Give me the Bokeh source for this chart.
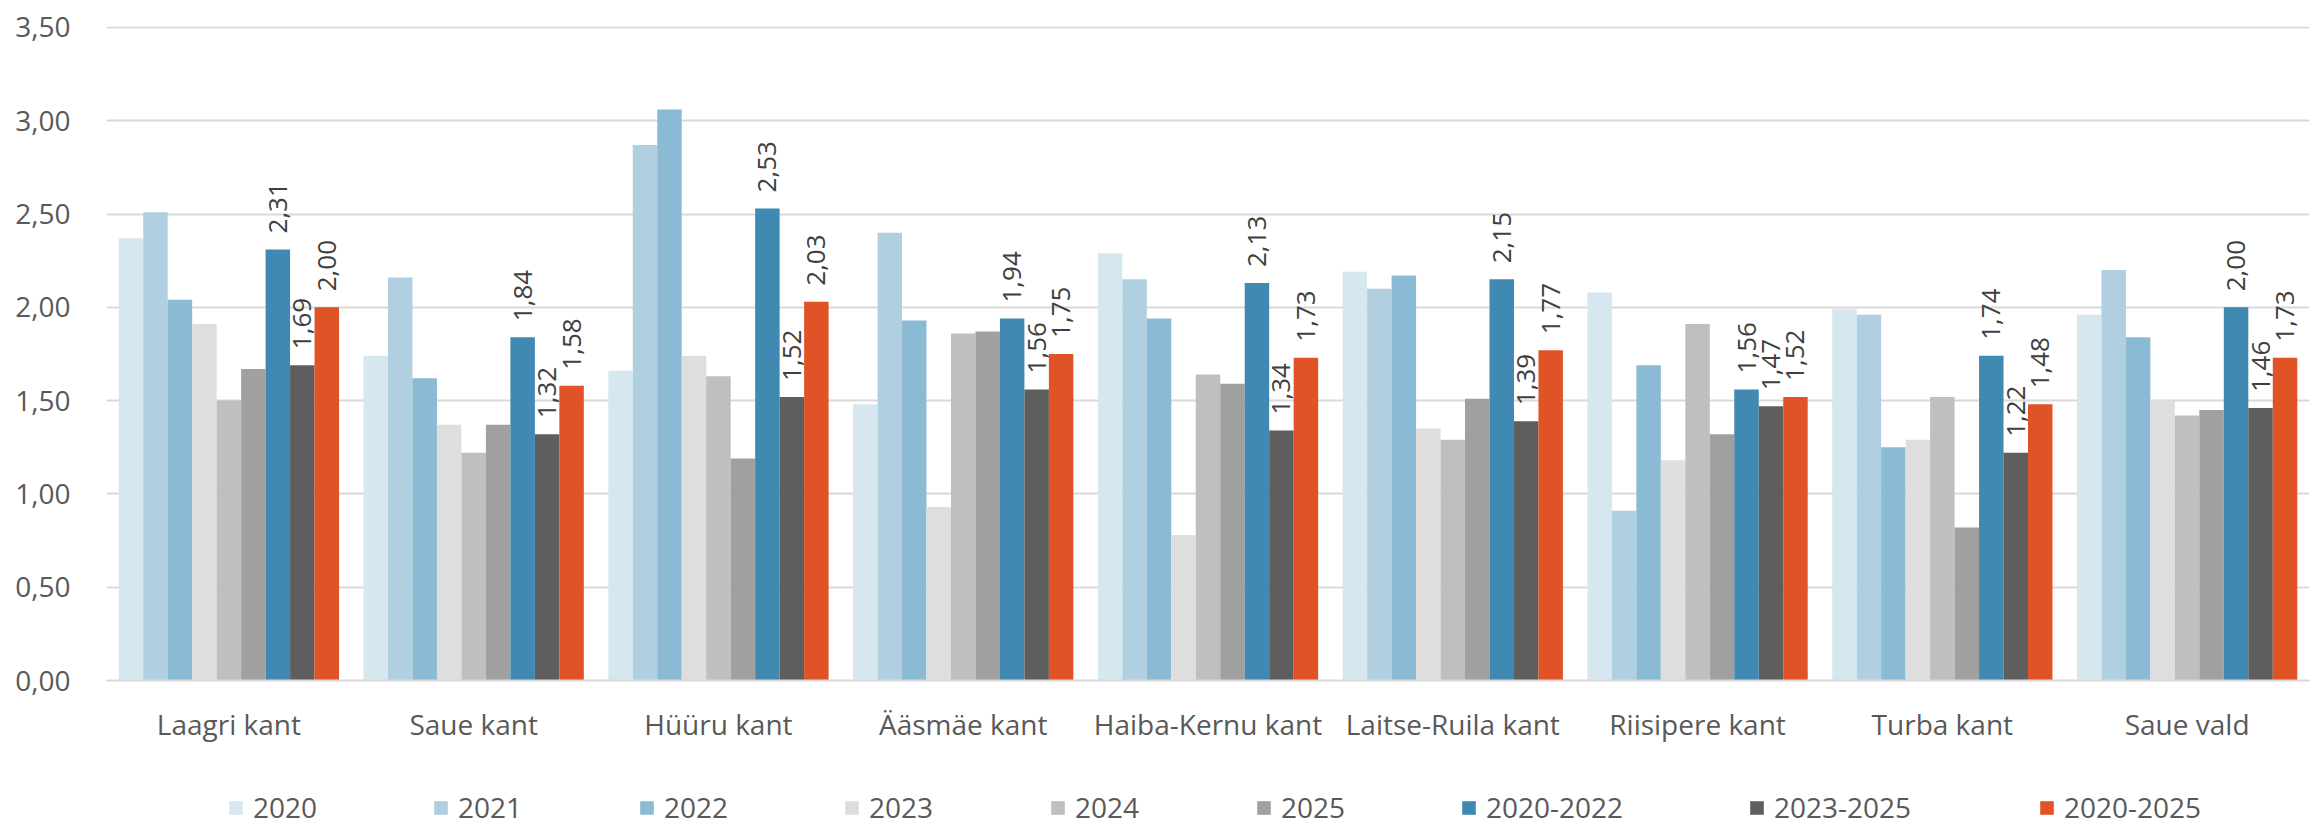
from bokeh.plotting import figure
from bokeh.models import (ColumnDataSource, FactorRange, FixedTicker, CustomJSTickFormatter,
                          Legend, LegendItem, Range1d)
from bokeh.layouts import column
from bokeh.transform import dodge
from bokeh.core.properties import value
from bokeh.embed import file_html
from bokeh.resources import INLINE
import math

categories = ["Laagri kant", "Saue kant", "Hüüru kant", "Ääsmäe kant", "Haiba-Kernu kant",
              "Laitse-Ruila kant", "Riisipere kant", "Turba kant", "Saue vald"]

series_names = ["2020", "2021", "2022", "2023", "2024", "2025", "2020-2022", "2023-2025", "2020-2025"]

v2020 = [2.37, 1.74, 1.66, 1.48, 2.29, 2.19, 2.08, 1.99, 1.96]
v2021 = [2.51, 2.16, 2.87, 2.40, 2.15, 2.10, 0.91, 1.96, 2.20]
v2022 = [2.04, 1.62, 3.06, 1.93, 1.94, 2.17, 1.69, 1.25, 1.84]
v2023 = [1.91, 1.37, 1.74, 0.93, 0.78, 1.35, 1.18, 1.29, 1.50]
v2024 = [1.50, 1.22, 1.63, 1.86, 1.64, 1.29, 1.91, 1.52, 1.42]
v2025 = [1.67, 1.37, 1.19, 1.87, 1.59, 1.51, 1.32, 0.82, 1.45]
v2020_2022 = [2.31, 1.84, 2.53, 1.94, 2.13, 2.15, 1.56, 1.74, 2.00]
v2023_2025 = [1.69, 1.32, 1.52, 1.56, 1.34, 1.39, 1.47, 1.22, 1.46]
v2020_2025 = [2.00, 1.58, 2.03, 1.75, 1.73, 1.77, 1.52, 1.48, 1.73]

series_values = [v2020, v2021, v2022, v2023, v2024, v2025, v2020_2022, v2023_2025, v2020_2025]
labeled = [False, False, False, False, False, False, True, True, True]

colors = ["#d6e7f0", "#b0d0e2", "#8bbad5", "#dedede", "#bfbfbf", "#a0a0a0",
          "#3f89b3", "#5e5e5e", "#e05327"]

y_ticks = [0, 0.5, 1.0, 1.5, 2.0, 2.5, 3.0, 3.5]

FONT = "Open Sans"
TEXT_COLOR = "#595959"

p = figure(width=2312, height=749, x_range=FactorRange(*categories, range_padding=0),
           y_range=Range1d(0, 3.505), output_backend="svg", toolbar_location=None,
           min_border_left=106, min_border_right=3, min_border_top=26, min_border_bottom=69)
p.outline_line_color = None
p.background_fill_color = "white"

data = {"cat": categories}
for name, vals in zip(series_names, series_values):
    data[name] = vals
    data[name + "_lbl"] = [f"{v:.2f}".replace(".", ",") for v in vals]
src = ColumnDataSource(data)

n = len(series_names)
bw = 0.1
for i, (name, col) in enumerate(zip(series_names, colors)):
    off = (i - (n - 1) / 2) * bw
    p.vbar(x=dodge("cat", off, range=p.x_range), top=name, width=bw, source=src,
           fill_color=col, line_color=None)
    if labeled[i]:
        p.text(x=dodge("cat", off, range=p.x_range), y=name, text=name + "_lbl", source=src,
               angle=math.pi / 2, text_align="left", text_baseline="middle",
               y_offset=-16, text_font=value(FONT), text_font_size="26px",
               text_color="#404040")

# axes
p.yaxis.ticker = FixedTicker(ticks=y_ticks)
p.yaxis.formatter = CustomJSTickFormatter(code="return tick.toFixed(2).replace('.', ',');")
p.yaxis.axis_line_color = None
p.yaxis.major_tick_line_color = None
p.yaxis.minor_tick_line_color = None
p.yaxis.major_label_standoff = 30
p.yaxis.major_label_text_font = FONT
p.yaxis.major_label_text_font_size = "28px"
p.yaxis.major_label_text_color = TEXT_COLOR

p.xaxis.axis_line_color = "#d9d9d9"
p.xaxis.axis_line_width = 2
p.xaxis.major_tick_line_color = None
p.xaxis.minor_tick_line_color = None
p.xaxis.major_tick_out = 0
p.xaxis.major_label_standoff = 24
p.xaxis.major_label_text_font = FONT
p.xaxis.major_label_text_font_size = "28px"
p.xaxis.major_label_text_color = TEXT_COLOR

p.xgrid.grid_line_color = None
p.ygrid.grid_line_color = "#d9d9d9"
p.ygrid.grid_line_width = 2

# legend strip below the chart
lf = figure(width=2312, height=77, x_range=Range1d(0, 1), y_range=Range1d(0, 1),
            output_backend="svg", toolbar_location=None,
            min_border_left=106, min_border_right=3, min_border_top=0, min_border_bottom=0)
lf.outline_line_color = None
lf.axis.visible = False
lf.grid.visible = False
legend_x = [121, 326, 532, 737, 943, 1149, 1354, 1642, 1932]
for name, col, lx in zip(series_names, colors, legend_x):
    r = lf.quad(left=[-5], right=[-4], bottom=[-5], top=[-4], fill_color=col, line_color=None)
    lg = Legend(items=[LegendItem(label=name, renderers=[r])], location=(lx, 0),
                orientation="horizontal", padding=0, margin=0, spacing=0,
                glyph_width=17, glyph_height=17, label_standoff=9,
                label_text_font=FONT, label_text_font_size="28px",
                label_text_color=TEXT_COLOR, border_line_color=None,
                background_fill_alpha=0)
    lf.add_layout(lg, "center")

open("out.html", "w").write(file_html(column(p, lf, spacing=0), INLINE))
